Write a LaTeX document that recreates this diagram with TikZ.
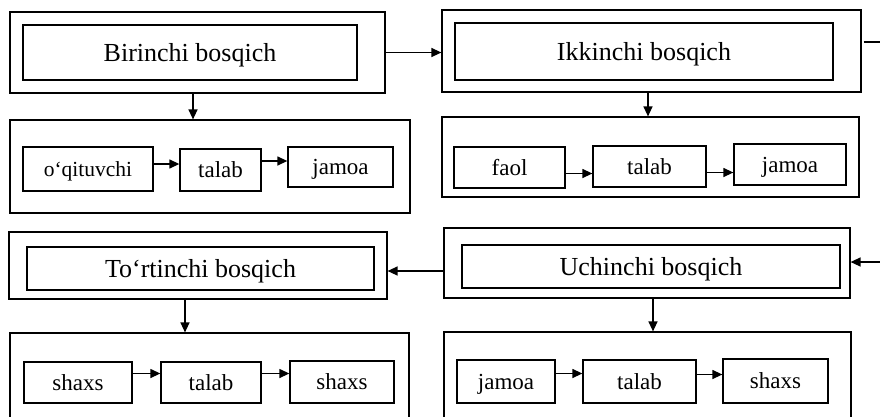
\documentclass[tikz,border=0pt]{standalone}
\usepackage{fontspec}
\setmainfont{Liberation Serif}
\usetikzlibrary{arrows.meta}
\tikzset{
  outerbox/.style={draw, line width=1.2pt, minimum width=#1, inner sep=0pt},
  innerbox/.style={draw, line width=1.2pt, inner sep=0pt, text height=18pt, text depth=0pt, font=\fontsize{26}{29}\selectfont},
  smallbox/.style={draw, line width=1.3pt, inner sep=0pt, text height=15pt, text depth=0pt, font=\fontsize{23}{26}\selectfont},
  arr/.style={line width=1.3pt, -{Triangle[length=10pt,width=9pt]}},
}
\begin{document}
\begin{tikzpicture}[x=1pt,y=-1pt]
\useasboundingbox (0,0) rectangle (880,416);
\clip (0,0) rectangle (880,416);
% Row 1
\node[outerbox=375pt, minimum height=81pt] (Aout) at (197.5,52.5) {};
\node[innerbox, minimum width=334pt, minimum height=55pt] (Ain) at (190,52.5) {Birinchi bosqich};
\node[outerbox=419pt, minimum height=82pt] (Bout) at (651.5,51) {};
\node[innerbox, minimum width=378pt, minimum height=57pt] (Bin) at (644,51.5) {Ikkinchi bosqich};
% Row 2
\node[outerbox=400pt, minimum height=93pt] (A2out) at (210,166.5) {};
\node[smallbox, minimum width=130pt, minimum height=44pt, font=\fontsize{21.5}{25}\selectfont] (a1) at (88,169) {o‘qituvchi};
\node[smallbox, minimum width=81pt, minimum height=42pt] (a2) at (220.5,170) {talab};
\node[smallbox, minimum width=105pt, minimum height=40pt] (a3) at (340.5,167) {jamoa};
\node[outerbox=417pt, minimum height=80pt] (B2out) at (650.5,157) {};
\node[smallbox, minimum width=111pt, minimum height=41pt] (b1) at (509.5,167.5) {faol};
\node[smallbox, minimum width=113pt, minimum height=41pt] (b2) at (649.5,166.5) {talab};
\node[smallbox, minimum width=112pt, minimum height=41pt] (b3) at (790,164.5) {jamoa};
% Row 3
\node[outerbox=378pt, minimum height=67pt] (Dout) at (198,265.5) {};
\node[innerbox, minimum width=347pt, minimum height=43pt] (Din) at (200.5,268.5) {To‘rtinchi bosqich};
\node[outerbox=406pt, minimum height=70pt] (Cout) at (647,263) {};
\node[innerbox, minimum width=378pt, minimum height=43pt] (Cin) at (651,266.5) {Uchinchi bosqich};
% Row 4
\node[outerbox=399pt, minimum height=110pt] (D2out) at (209.5,388) {};
\node[smallbox, minimum width=108pt, minimum height=41pt] (d1) at (78,382.5) {shaxs};
\node[smallbox, minimum width=100pt, minimum height=41pt] (d2) at (211,382.5) {talab};
\node[smallbox, minimum width=104pt, minimum height=42pt] (d3) at (342,382) {shaxs};
\node[outerbox=407pt, minimum height=110pt] (C2out) at (647.5,387) {};
\node[smallbox, minimum width=98pt, minimum height=43pt] (c1) at (506,381.5) {jamoa};
\node[smallbox, minimum width=113pt, minimum height=43pt] (c2) at (639.5,381.5) {talab};
\node[smallbox, minimum width=105pt, minimum height=44pt] (c3) at (775.5,381) {shaxs};
% Connectors between stages
\draw[arr] (Aout.east) -- (Aout.east -| Bout.west);
\draw[arr] ([yshift=9pt,xshift=2pt]Bout.east) -- ++(40,0) |- ([yshift=1pt]Cout.east);
\draw[arr] ([yshift=-8pt]Cout.west) -- ([yshift=-8pt]Cout.west -| Dout.east);
\draw[arr] ([xshift=-4.5pt]Aout.south) -- ([xshift=-4.5pt]Aout.south |- A2out.north);
\draw[arr] ([xshift=-3.5pt]Bout.south) -- ([xshift=-3.5pt]Bout.south |- B2out.north);
\draw[arr] ([xshift=-13pt]Dout.south) -- ([xshift=-13pt]Dout.south |- D2out.north);
\draw[arr] ([xshift=6pt]Cout.south) -- ([xshift=6pt]Cout.south |- C2out.north);
% Inner chains
\draw[arr] ([yshift=5pt]a1.east) -- ([yshift=5pt]a1.east -| a2.west);
\draw[arr] ([yshift=9pt]a2.east) -- ([yshift=9pt]a2.east -| a3.west);
\draw[arr] ([yshift=-6pt]b1.east) -- ([yshift=-6pt]b1.east -| b2.west);
\draw[arr] ([yshift=-6pt]b2.east) -- ([yshift=-6pt]b2.east -| b3.west);
\draw[arr] ([yshift=9pt]d1.east) -- ([yshift=9pt]d1.east -| d2.west);
\draw[arr] ([yshift=9pt]d2.east) -- ([yshift=9pt]d2.east -| d3.west);
\draw[arr] ([yshift=8pt]c1.east) -- ([yshift=8pt]c1.east -| c2.west);
\draw[arr] ([yshift=7pt]c2.east) -- ([yshift=7pt]c2.east -| c3.west);
\end{tikzpicture}
\end{document}
